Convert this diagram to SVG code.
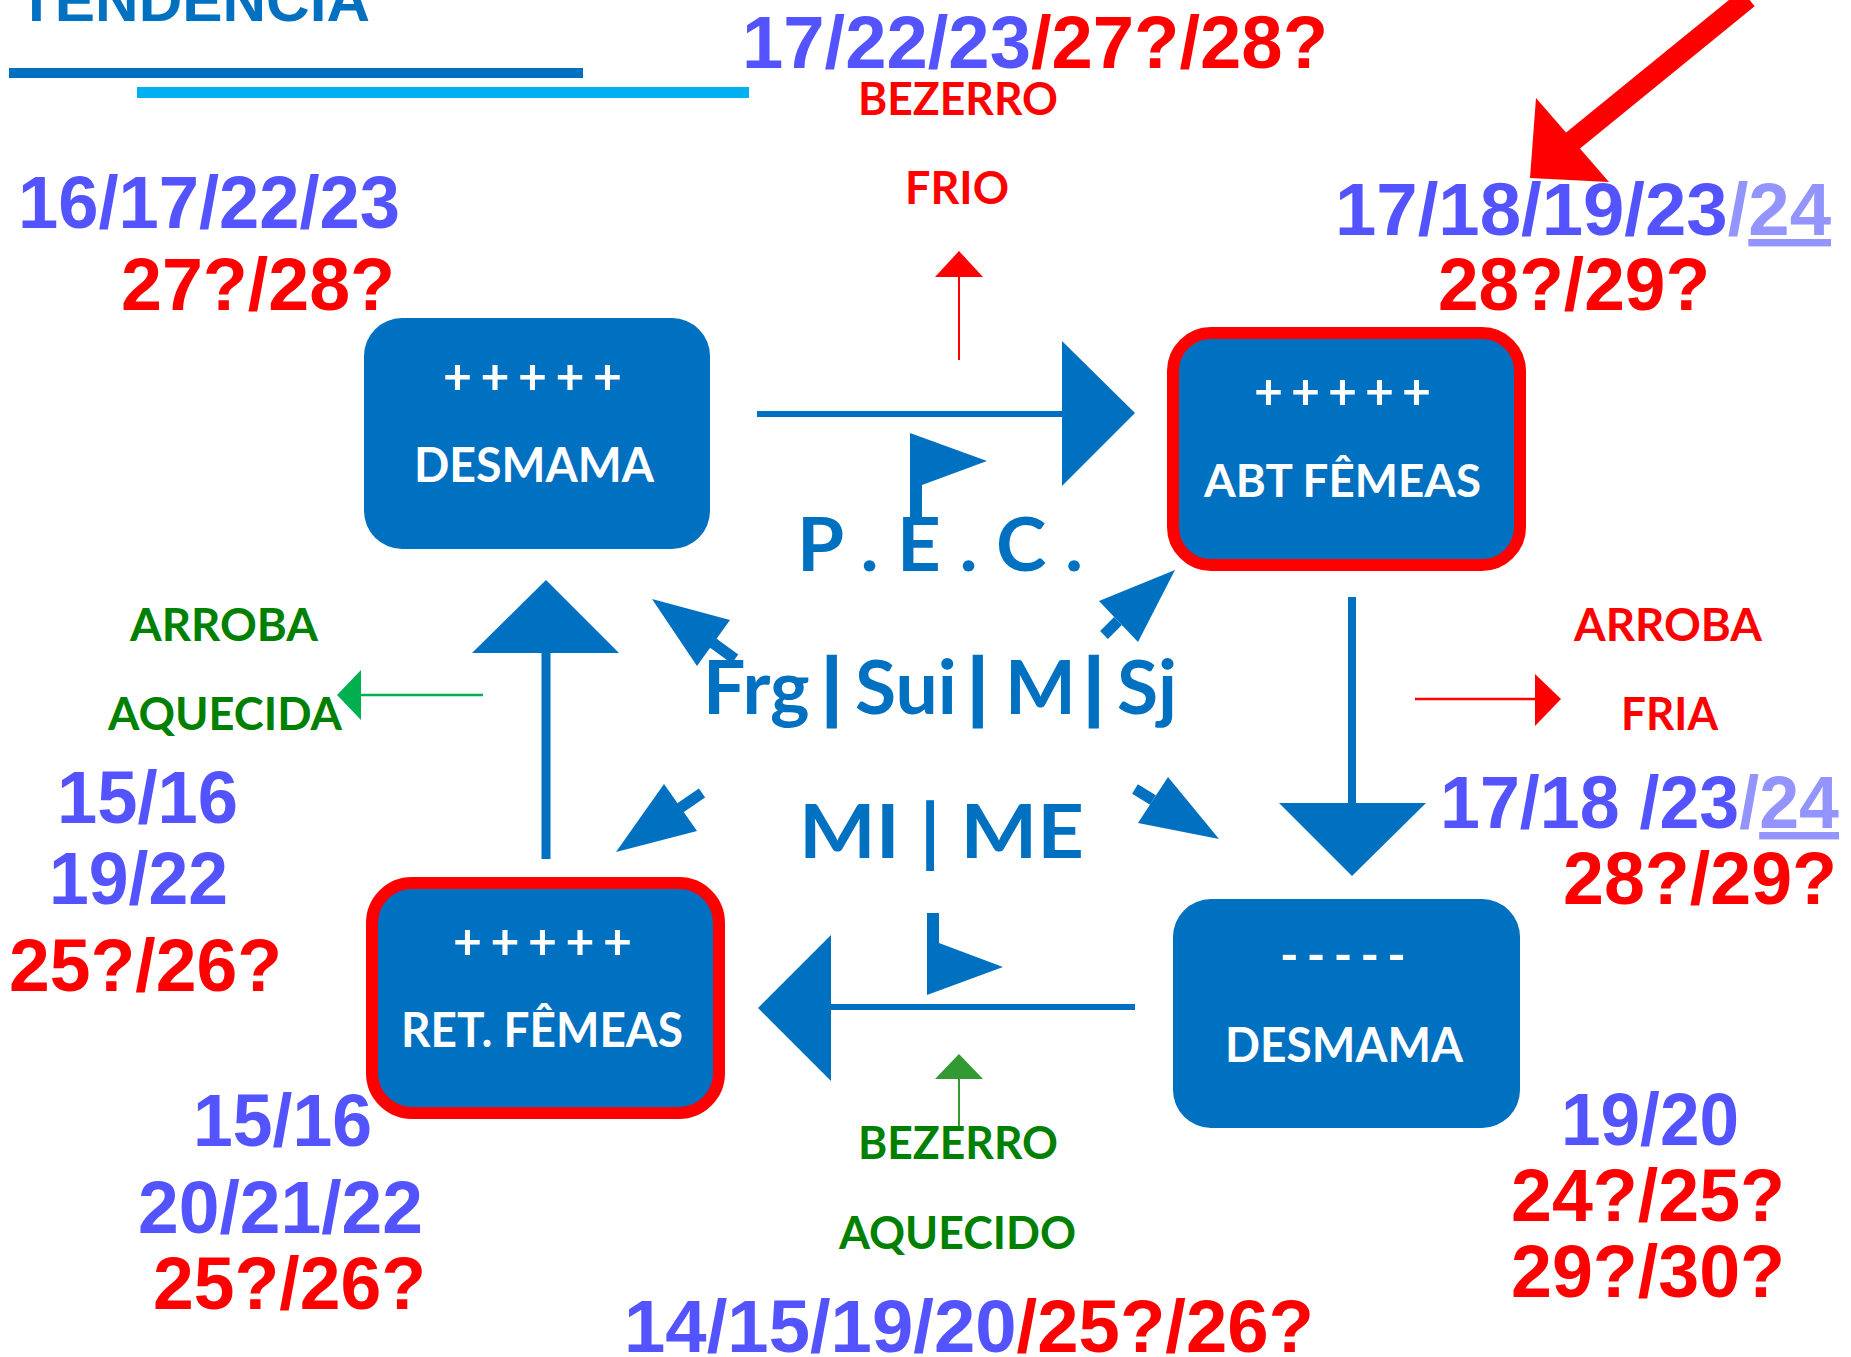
<svg xmlns="http://www.w3.org/2000/svg" width="1851" height="1357" viewBox="0 0 1851 1357">
<style>
.num{font-family:"Liberation Sans",Arial,sans-serif;font-weight:bold;font-size:74px}
.b{fill:#5353FF}
.r{fill:#FF0000}
.lt{fill:#9494FF}
.g{fill:#008000}
.lbl{font-family:Lato,"Noto Sans",sans-serif;font-weight:bold}
.w{fill:#FFFFFF}
.box{fill:#0070C0}
.hl{stroke:#FF0000;stroke-width:12}
.cb{fill:#0070C0}
.sb{stroke:#0070C0;fill:none}
.pipe{stroke:#0070C0;stroke-width:3}
</style>
<rect x="0" y="0" width="1851" height="1357" fill="#FFFFFF"/>

<g id="title">
<text x="18" y="21" font-family="'Liberation Sans',Arial,sans-serif" font-weight="bold" font-size="60" fill="#0070C0" textLength="352" lengthAdjust="spacingAndGlyphs">TENDÊNCIA</text>
<rect x="9" y="68" width="574" height="10" fill="#0070C0"/>
<rect x="137" y="87" width="612" height="11" fill="#00B0F0"/>
</g>

<g id="connectors">
<!-- top horizontal arrow -->
<line x1="757" y1="414" x2="1064" y2="414" class="sb" stroke-width="6"/>
<polygon points="1062,341 1135,413 1062,486" class="cb"/>
<polygon points="910,433 987,461 922,485 922,518 910,518" class="cb"/>
<!-- left vertical up arrow -->
<line x1="546" y1="653" x2="546" y2="859" class="sb" stroke-width="9"/>
<polygon points="472,653 546,580 619,653" class="cb"/>
<!-- right vertical down arrow -->
<line x1="1352" y1="597" x2="1352" y2="805" class="sb" stroke-width="8"/>
<polygon points="1279,803 1426,803 1352,876" class="cb"/>
<!-- bottom horizontal left arrow -->
<line x1="829" y1="1007" x2="1135" y2="1007" class="sb" stroke-width="6"/>
<polygon points="831,935 758,1008 831,1081" class="cb"/>
<polygon points="927,913 939,913 939,943 1003,967 927,995" class="cb"/>
<!-- diagonal arrows -->
<polygon points="652,599 730,620 697,666" class="cb"/>
<line x1="713" y1="643" x2="735" y2="659" class="sb" stroke-width="11"/>
<polygon points="1175,570 1099,601 1138,642" class="cb"/>
<line x1="1118" y1="621" x2="1104" y2="635" class="sb" stroke-width="11"/>
<polygon points="616,852 664,784 697,831" class="cb"/>
<line x1="680" y1="808" x2="702" y2="793" class="sb" stroke-width="11"/>
<polygon points="1219,839 1168,777 1138,823" class="cb"/>
<line x1="1153" y1="800" x2="1135" y2="789" class="sb" stroke-width="11"/>
<!-- red up arrow (bezerro frio) -->
<line x1="959" y1="275" x2="959" y2="360" stroke="#FF0000" stroke-width="2"/>
<polygon points="935,277 959,251 983,277" fill="#FF0000"/>
<!-- red right arrow (arroba fria) -->
<line x1="1415" y1="699" x2="1537" y2="699" stroke="#FF0000" stroke-width="2.5"/>
<polygon points="1535,674 1561,699 1535,726" fill="#FF0000"/>
<!-- green left arrow (arroba aquecida) -->
<line x1="359" y1="695" x2="483" y2="695" stroke="#00B050" stroke-width="2.5"/>
<polygon points="361,670 337,695 361,720" fill="#00B050"/>
<!-- green up arrow (bezerro aquecido) -->
<line x1="959" y1="1077" x2="959" y2="1127" stroke="#339933" stroke-width="2"/>
<polygon points="935,1079 959,1054 983,1079" fill="#339933"/>
<!-- big red arrow -->
<line x1="1748" y1="-2" x2="1570" y2="143" stroke="#FF0000" stroke-width="21"/>
<polygon points="1536,98 1530,178 1609,182" fill="#FF0000"/>
</g>

<g id="node-desmama-top">
<rect x="364" y="318" width="346" height="231" rx="38" class="box"/>
<text class="lbl w" x="443" y="394" font-size="50" textLength="179" lengthAdjust="spacing">+++++</text>
<text class="lbl w" x="414" y="482" font-size="47" textLength="240" lengthAdjust="spacingAndGlyphs">DESMAMA</text>
</g>

<g id="node-abt-femeas">
<rect x="1173" y="333" width="347" height="232" rx="38" class="box hl"/>
<text class="lbl w" x="1254" y="409" font-size="50" textLength="177" lengthAdjust="spacing">+++++</text>
<text class="lbl w" x="1204" y="497" font-size="46" textLength="277" lengthAdjust="spacingAndGlyphs">ABT FÊMEAS</text>
</g>

<g id="node-ret-femeas">
<rect x="372" y="883" width="347" height="230" rx="40" class="box hl"/>
<text class="lbl w" x="453" y="959" font-size="50" textLength="179" lengthAdjust="spacing">+++++</text>
<text class="lbl w" x="401" y="1047" font-size="48" textLength="282" lengthAdjust="spacingAndGlyphs">RET. FÊMEAS</text>
</g>

<g id="node-desmama-bottom">
<rect x="1173" y="899" width="347" height="229" rx="38" class="box"/>
<text class="lbl w" x="1280" y="973" font-size="50" textLength="126" lengthAdjust="spacing">-----</text>
<text class="lbl w" x="1225" y="1062" font-size="47" textLength="238" lengthAdjust="spacingAndGlyphs">DESMAMA</text>
</g>

<g id="center-labels">
<text class="lbl" fill="#0070C0" x="797" y="571" font-size="74" textLength="286" lengthAdjust="spacingAndGlyphs">P . E . C .</text>
<text class="lbl" fill="#0070C0" y="714" font-size="75"><tspan x="703">Frg</tspan><tspan x="822" class="pipe">|</tspan><tspan x="855">Sui</tspan><tspan x="968" class="pipe">|</tspan><tspan x="1005">M</tspan><tspan x="1084" class="pipe">|</tspan><tspan x="1117">Sj</tspan></text>
<text class="lbl" fill="#0070C0" x="799" y="858" font-size="75" textLength="285" lengthAdjust="spacingAndGlyphs">MI | ME</text>
</g>

<g id="side-labels">
<text class="lbl r" x="858" y="115" font-size="46" textLength="200" lengthAdjust="spacingAndGlyphs">BEZERRO</text>
<text class="lbl r" x="905" y="204" font-size="45" textLength="104" lengthAdjust="spacingAndGlyphs">FRIO</text>
<text class="lbl g" x="130" y="641" font-size="46" textLength="188" lengthAdjust="spacingAndGlyphs">ARROBA</text>
<text class="lbl g" x="108" y="730" font-size="46" textLength="234" lengthAdjust="spacingAndGlyphs">AQUECIDA</text>
<text class="lbl r" x="1574" y="641" font-size="46" textLength="188" lengthAdjust="spacingAndGlyphs">ARROBA</text>
<text class="lbl r" x="1621" y="730" font-size="46" textLength="97" lengthAdjust="spacingAndGlyphs">FRIA</text>
<text class="lbl g" x="858" y="1159" font-size="46" textLength="200" lengthAdjust="spacingAndGlyphs">BEZERRO</text>
<text class="lbl g" x="839" y="1249" font-size="46" textLength="237" lengthAdjust="spacingAndGlyphs">AQUECIDO</text>
</g>

<g id="dates">
<text class="num" x="742" y="68" textLength="586" lengthAdjust="spacingAndGlyphs"><tspan class="b">17/22/23</tspan><tspan class="r">/27?/28?</tspan></text>
<text class="num b" x="18" y="228" textLength="382" lengthAdjust="spacingAndGlyphs">16/17/22/23</text>
<text class="num r" x="121" y="310" textLength="274" lengthAdjust="spacingAndGlyphs">27?/28?</text>
<text class="num" x="1335" y="235" textLength="496" lengthAdjust="spacingAndGlyphs"><tspan class="b">17/18/19/23</tspan><tspan class="lt">/</tspan><tspan class="lt" text-decoration="underline">24</tspan></text>
<text class="num r" x="1438" y="310" textLength="272" lengthAdjust="spacingAndGlyphs">28?/29?</text>
<text class="num b" x="57" y="823" textLength="181" lengthAdjust="spacingAndGlyphs">15/16</text>
<text class="num b" x="49" y="904" textLength="179" lengthAdjust="spacingAndGlyphs">19/22</text>
<text class="num r" x="9" y="991" textLength="273" lengthAdjust="spacingAndGlyphs">25?/26?</text>
<text class="num b" x="193" y="1146" textLength="179" lengthAdjust="spacingAndGlyphs">15/16</text>
<text class="num b" x="138" y="1233" textLength="285" lengthAdjust="spacingAndGlyphs">20/21/22</text>
<text class="num r" x="153" y="1309" textLength="273" lengthAdjust="spacingAndGlyphs">25?/26?</text>
<text class="num" x="1440" y="828" textLength="399" lengthAdjust="spacingAndGlyphs"><tspan class="b">17/18 /23</tspan><tspan class="lt">/</tspan><tspan class="lt" text-decoration="underline">24</tspan></text>
<text class="num r" x="1563" y="904" textLength="274" lengthAdjust="spacingAndGlyphs">28?/29?</text>
<text class="num b" x="1561" y="1145" textLength="178" lengthAdjust="spacingAndGlyphs">19/20</text>
<text class="num r" x="1511" y="1221" textLength="274" lengthAdjust="spacingAndGlyphs">24?/25?</text>
<text class="num r" x="1511" y="1297" textLength="274" lengthAdjust="spacingAndGlyphs">29?/30?</text>
<text class="num" x="624" y="1352" textLength="690" lengthAdjust="spacingAndGlyphs"><tspan class="b">14/15/19/20</tspan><tspan class="r">/25?/26?</tspan></text>
</g>
</svg>
